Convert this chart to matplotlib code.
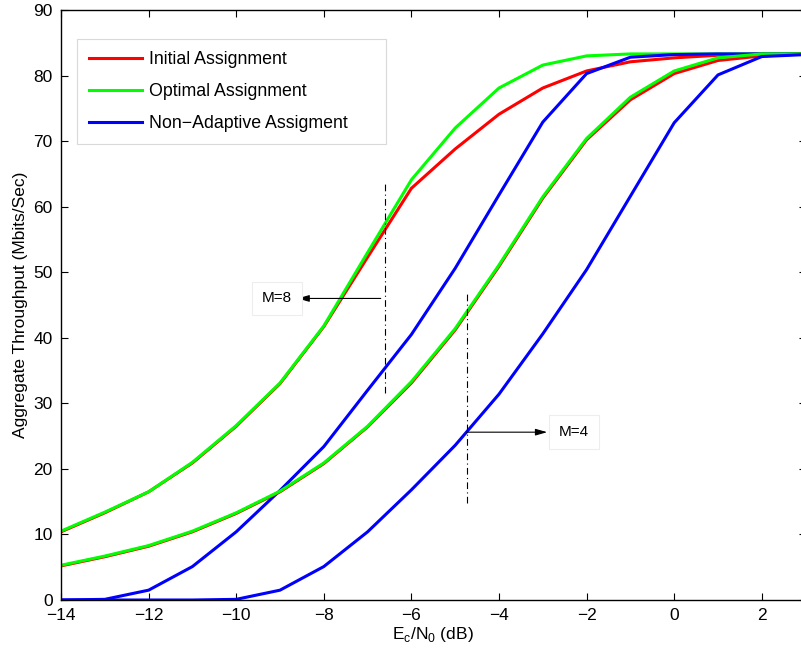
import numpy as np
import matplotlib
matplotlib.use("Agg")
import matplotlib.pyplot as plt

plt.rcParams['font.family'] = ['Liberation Sans', 'DejaVu Sans']

# Ec/N0 (dB)
ec_n0 = [-14, -13, -12, -11, -10, -9, -8, -7, -6, -5, -4, -3, -2, -1, 0, 1, 2, 3]

# M=8 curves
init_m8 = [10.4, 13.3, 16.5, 20.9, 26.5, 33.0, 41.7, 52.3, 62.8, 68.8, 74.1, 78.1, 80.7, 82.1, 82.7, 83.1, 83.3, 83.3]
opt_m8 = [10.5, 13.4, 16.5, 21.0, 26.6, 33.1, 41.8, 53.0, 64.1, 72.0, 78.1, 81.6, 83.0, 83.3, 83.3, 83.3, 83.3, 83.3]
nonad_m8 = [0.0, 0.1, 1.5, 5.1, 10.4, 16.7, 23.4, 32.0, 40.5, 50.6, 61.8, 72.9, 80.3, 82.8, 83.2, 83.3, 83.3, 83.3]

# M=4 curves
init_m4 = [5.2, 6.6, 8.2, 10.4, 13.2, 16.5, 20.8, 26.4, 33.1, 41.2, 50.9, 61.3, 70.2, 76.3, 80.3, 82.3, 83.0, 83.3]
opt_m4 = [5.3, 6.7, 8.3, 10.5, 13.3, 16.6, 20.9, 26.5, 33.3, 41.4, 51.1, 61.5, 70.4, 76.7, 80.7, 82.7, 83.3, 83.3]
nonad_m4 = [0.0, 0.0, 0.0, 0.0, 0.1, 1.5, 5.1, 10.4, 16.8, 23.6, 31.4, 40.6, 50.4, 61.6, 72.8, 80.1, 82.9, 83.2]

legend_labels = ["Initial Assignment", "Optimal Assignment", "Non\u2212Adaptive Assigment"]

fig = plt.figure(figsize=(8.01, 6.54), dpi=100)
ax = fig.add_axes([61 / 801, 54 / 654, 744.6 / 801, 590 / 654])

lw = 2.2
h_init, = ax.plot(ec_n0, init_m8, color=(1, 0, 0), lw=lw)
h_opt, = ax.plot(ec_n0, opt_m8, color=(0, 1, 0), lw=lw)
h_non, = ax.plot(ec_n0, nonad_m8, color=(0, 0, 1), lw=lw)
ax.plot(ec_n0, init_m4, color=(1, 0, 0), lw=lw)
ax.plot(ec_n0, opt_m4, color=(0, 1, 0), lw=lw)
ax.plot(ec_n0, nonad_m4, color=(0, 0, 1), lw=lw)

# marker lines + labels
ax.plot([-6.6, -6.6], [31.6, 63.7], color='k', lw=0.8, dashes=(6, 3, 1, 3))
ax.plot([-4.74, -4.74], [14.8, 46.8], color='k', lw=0.8, dashes=(6, 3, 1, 3))

arrow = dict(arrowstyle='-|>,head_length=0.7,head_width=0.2', color='k', lw=0.8,
             shrinkA=0, shrinkB=0)
box = dict(boxstyle='square,pad=0.65', fc='white', ec=(0.93, 0.93, 0.93), lw=0.8)
ax.annotate("", xy=(-8.6, 46.0), xytext=(-6.7, 46.0), arrowprops=arrow)
ax.text(-8.72, 46.0, "M=8", fontsize=11, ha='right', va='center', bbox=box)
ax.annotate("", xy=(-2.9, 25.6), xytext=(-4.74, 25.6), arrowprops=arrow)
ax.text(-2.64, 25.6, "M=4", fontsize=11, ha='left', va='center', bbox=box)

ax.set_xlim(-14, 3)
ax.set_ylim(0, 90)
ax.set_xticks(np.arange(-14, 3, 2))
ax.set_yticks(np.arange(0, 91, 10))
ax.tick_params(direction='in', length=5, width=0.8, top=True, right=True,
               labelsize=12.5, pad=6)
for s in ax.spines.values():
    s.set_linewidth(1.0)

ax.set_xlabel(r"E$_\mathregular{c}$/N$_\mathregular{0}$ (dB)", fontsize=12.5, labelpad=1)
ax.set_ylabel("Aggregate Throughput (Mbits/Sec)", fontsize=12.5, labelpad=4)

leg = ax.legend([h_init, h_opt, h_non], legend_labels, loc='upper left',
                bbox_to_anchor=(0.0215, 0.7746, 0.415, 0.1762), mode='expand',
                borderaxespad=0, fontsize=12.8, handlelength=2.98,
                labelspacing=0.84, borderpad=0.68, handletextpad=0.4,
                fancybox=False, framealpha=1)
leg.get_frame().set_edgecolor((0.85, 0.85, 0.85))
leg.get_frame().set_linewidth(0.8)

fig.savefig("out.png", dpi=100)
